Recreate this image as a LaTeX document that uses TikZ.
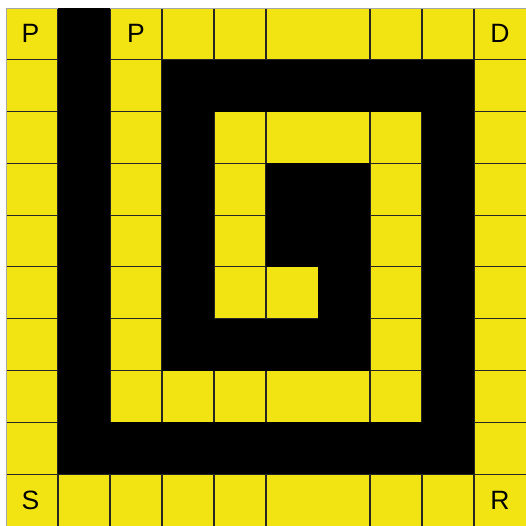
\documentclass[tikz,border=0pt]{standalone}
\usepackage{fontspec}
\setmainfont{Liberation Sans}
\definecolor{cellyellow}{RGB}{242,228,18}
\begin{document}
\begin{tikzpicture}[x=1cm,y=0.99615cm,
  gridline/.style={draw=black!85,line width=0.55pt},
  edgeline/.style={draw=black!35,line width=0.5pt},
  wall/.style={fill=black},
  lbl/.style={font=\fontsize{14.5}{17}\selectfont,text=black,inner sep=0pt}]
\useasboundingbox (-0.11538,0) rectangle (10,10.1544);
% yellow ground
\fill[cellyellow] (0,0) rectangle (10,10);
% grid lines (no line at x=6: those cells are merged)
\foreach \gx in {1,2,3,4,5,7,8,9} \draw[gridline] (\gx,0) -- (\gx,10);
\foreach \gy in {1,...,9} \draw[gridline] (0,\gy) -- (10,\gy);
\draw[edgeline] (0,0) -- (0,10) -- (10,10);
% black spiral
\fill[wall] (1,1) rectangle (2,10);
\fill[wall] (1,1) rectangle (9,2);
\fill[wall] (8,1) rectangle (9,9);
\fill[wall] (3,8) rectangle (9,9);
\fill[wall] (3,3) rectangle (4,9);
\fill[wall] (3,3) rectangle (7,4);
\fill[wall] (6,3) rectangle (7,7);
\fill[wall] (5,5) rectangle (7,7);
% labels
\node[lbl] (p1) at (0.47,9.5) {P};
\node[lbl] (p2) at (2.5,9.5) {P};
\node[lbl] (d) at (9.5,9.5) {D};
\node[lbl] (s) at (0.47,0.5) {S};
\node[lbl] (r) at (9.5,0.5) {R};
\end{tikzpicture}
\end{document}
